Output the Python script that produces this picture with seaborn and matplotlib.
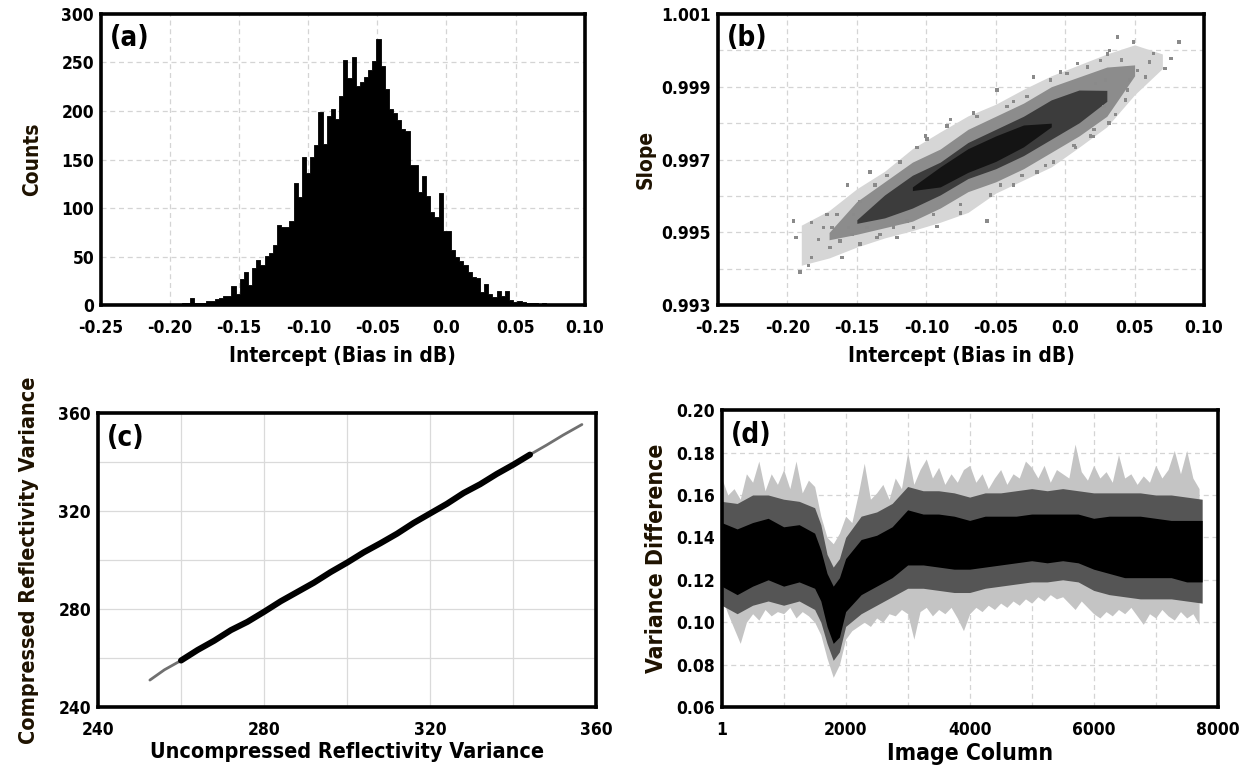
import numpy as np
import matplotlib
matplotlib.use("Agg")
import matplotlib.pyplot as plt
from matplotlib import font_manager as fm
from matplotlib.ticker import MultipleLocator, FixedLocator, FormatStrFormatter
import seaborn as sns

# ---- (a) histogram of intercepts, bin width 0.003 starting at -0.2007
bin_start = -0.2007
bin_width = 0.003
hist_counts = [1, 1, 1, 2, 2, 8, 2, 2, 2, 4, 4, 6, 8, 10, 10, 20, 12, 27, 34, 21,
               38, 47, 42, 51, 54, 62, 83, 81, 81, 87, 126, 111, 153, 136, 153, 165, 199, 166, 195, 202,
               192, 215, 253, 234, 256, 226, 230, 235, 242, 251, 274, 246, 223, 202, 198, 191, 182, 179, 144, 144,
               117, 133, 113, 96, 91, 116, 76, 76, 57, 50, 46, 41, 34, 29, 28, 14, 22, 12, 9, 15,
               10, 15, 5, 3, 4, 3, 2, 2, 2, 1, 2, 1, 1]

# ---- (b) slope vs intercept cloud: density bands + sparse points
band_x = [-0.19, -0.17, -0.15, -0.13, -0.11, -0.09, -0.07, -0.05, -0.03, -0.01, 0.01, 0.03, 0.05, 0.07]
outer_lo = [0.9941, 0.9943, 0.9946, 0.99485, 0.99505, 0.99528, 0.99555, 0.99608, 0.99644, 0.99680, 0.99734, 0.99790, 0.99878, 0.99950]
outer_hi = [0.9952, 0.99560, 0.9962, 0.99668, 0.99730, 0.99776, 0.99820, 0.99852, 0.99893, 0.99930, 0.99960, 0.99990, 1.00015, 0.99990]
mid_x = [-0.17, -0.15, -0.13, -0.11, -0.09, -0.07, -0.05, -0.03, -0.01, 0.01, 0.03, 0.05]
mid_lo = [0.99480, 0.99495, 0.99513, 0.99531, 0.99567, 0.99612, 0.99639, 0.99675, 0.99720, 0.99765, 0.99819, 0.99930]
mid_hi = [0.99500, 0.99585, 0.99639, 0.99693, 0.99729, 0.99783, 0.99819, 0.99855, 0.99900, 0.99927, 0.99954, 0.99960]
core_x = [-0.15, -0.13, -0.11, -0.09, -0.07, -0.05, -0.03, -0.01, 0.01, 0.03]
core_lo = [0.99525, 0.99540, 0.99567, 0.99603, 0.99648, 0.99675, 0.99711, 0.99756, 0.99801, 0.99860]
core_hi = [0.99535, 0.99603, 0.99657, 0.99693, 0.99747, 0.99783, 0.99819, 0.99864, 0.99891, 0.99890]
dense_x = [-0.11, -0.09, -0.07, -0.05, -0.03, -0.01]
dense_lo = [0.99615, 0.99625, 0.99665, 0.99695, 0.99735, 0.99790]
dense_hi = [0.99625, 0.99680, 0.99730, 0.99765, 0.99795, 0.99800]
out_x = [-0.1909, -0.1849, -0.1825, -0.1957, -0.1938, -0.1825, -0.1776, -0.1740, -0.1692, -0.1608,
         -0.1567, -0.1644, -0.1536, -0.1476, -0.1404, -0.1332, -0.1212, -0.1067, -0.1007, -0.0923,
         -0.0827, -0.0755, -0.0562, -0.0659, -0.0490, -0.0370, -0.0466, -0.0310, -0.0226, -0.0142,
         -0.0034, 0.0075, 0.0207, 0.0087, 0.0303, 0.0219, 0.0279, 0.0377, 0.0491, 0.0634,
         0.0820, 0.0763, 0.0720, 0.0577, 0.0449, 0.0434, 0.0363, 0.0206, 0.0520, 0.0406,
         0.0320, 0.0606, 0.0291, 0.0463,
         -0.1716, -0.1680, -0.1620, -0.1560, -0.1524, -0.1476, -0.1428, -0.1368, -0.1356, -0.1284,
         -0.1236, -0.1188, -0.1139, -0.1091, -0.0995, -0.0947, -0.0851, -0.0755, -0.0635, -0.0538,
         -0.0418, -0.0370, -0.0274, -0.0202, -0.0106, -0.0082, 0.0014, 0.0063, 0.0159, 0.0183,
         0.0255, 0.0315]
out_y = [0.99391, 0.99409, 0.99432, 0.99532, 0.99486, 0.99528, 0.99481, 0.99513, 0.99459, 0.99432,
         0.99630, 0.99549, 0.99495, 0.99468, 0.99666, 0.99495, 0.99486, 0.99733, 0.99765, 0.99517,
         0.99810, 0.99553, 0.99531, 0.99828, 0.99891, 0.99859, 0.99630, 0.99657, 0.99927, 0.99684,
         0.99941, 0.99733, 0.99783, 0.99963, 0.99990, 0.99909, 0.99846, 1.00036, 1.00023, 0.99991,
         1.00023, 0.99977, 0.99950, 0.99927, 0.99891, 0.99864, 0.99823, 0.99764, 0.99945, 0.99973,
         1.00000, 0.99968, 0.99918, 0.99918,
         0.99549, 0.99513, 0.99477, 0.99513, 0.99549, 0.99585, 0.99513, 0.99630, 0.99486, 0.99657,
         0.99513, 0.99693, 0.99531, 0.99513, 0.99756, 0.99549, 0.99792, 0.99576, 0.99819, 0.99603,
         0.99846, 0.99630, 0.99873, 0.99666, 0.99918, 0.99693, 0.99936, 0.99738, 0.99954, 0.99765,
         0.99972, 0.99801]

# ---- (c) compressed vs uncompressed variance
c_x = [252.5, 256, 260, 264, 268, 272, 276, 280, 284, 288, 292, 296, 300, 304, 308, 312, 316, 320,
       324, 328, 332, 336, 340, 344, 348, 352, 356.5]
c_y = [251.0, 255.2, 259.0, 263.3, 267.1, 271.4, 274.8, 278.9, 283.2, 287.0, 290.8, 295.1, 299.0, 303.2,
       306.9, 310.8, 315.2, 319.1, 323.0, 327.4, 331.0, 335.2, 339.0, 343.1, 347.0, 351.1, 355.4]

# ---- (d) variance difference per image column: spread envelopes
d_cols = list(range(0, 7800, 100))
d_max = [0.168, 0.160, 0.163, 0.158, 0.170, 0.166, 0.176, 0.162, 0.170, 0.165, 0.172, 0.163, 0.176, 0.161,
         0.167, 0.164, 0.150, 0.140, 0.137, 0.142, 0.150, 0.147, 0.160, 0.175, 0.158, 0.161, 0.165, 0.158,
         0.168, 0.163, 0.180, 0.165, 0.172, 0.177, 0.168, 0.173, 0.165, 0.170, 0.166, 0.172, 0.174, 0.166,
         0.170, 0.163, 0.168, 0.172, 0.165, 0.170, 0.168, 0.176, 0.173, 0.168, 0.174, 0.166, 0.172, 0.170,
         0.168, 0.184, 0.171, 0.167, 0.174, 0.168, 0.171, 0.166, 0.179, 0.168, 0.170, 0.165, 0.169, 0.166,
         0.174, 0.168, 0.172, 0.181, 0.170, 0.181, 0.168, 0.163]
d_min = [0.112, 0.104, 0.097, 0.090, 0.100, 0.104, 0.101, 0.106, 0.103, 0.105, 0.104, 0.107, 0.102, 0.105,
         0.103, 0.100, 0.094, 0.083, 0.074, 0.080, 0.092, 0.096, 0.098, 0.100, 0.098, 0.102, 0.100, 0.104,
         0.103, 0.106, 0.104, 0.092, 0.105, 0.107, 0.103, 0.106, 0.104, 0.107, 0.102, 0.096, 0.104, 0.107,
         0.105, 0.108, 0.106, 0.109, 0.107, 0.110, 0.108, 0.111, 0.109, 0.112, 0.110, 0.113, 0.111, 0.112,
         0.109, 0.106, 0.110, 0.107, 0.104, 0.102, 0.105, 0.103, 0.106, 0.104, 0.107, 0.103, 0.099, 0.104,
         0.102, 0.106, 0.103, 0.101, 0.105, 0.102, 0.104, 0.099]
d_band_cols = [0, 250, 500, 750, 1000, 1250, 1500, 1600, 1700, 1800, 1900, 2000, 2250, 2500, 2750, 3000,
               3250, 3500, 3750, 4000, 4250, 4500, 4750, 5000, 5250, 5500, 5750, 6000, 6250, 6500, 6750,
               7000, 7250, 7500, 7750]
d_mid_hi = [0.157, 0.156, 0.160, 0.160, 0.158, 0.157, 0.154, 0.146, 0.132, 0.126, 0.130, 0.140, 0.150, 0.152,
            0.156, 0.164, 0.162, 0.162, 0.161, 0.159, 0.161, 0.161, 0.162, 0.163, 0.162, 0.163, 0.162, 0.161,
            0.161, 0.161, 0.161, 0.160, 0.160, 0.159, 0.158]
d_mid_lo = [0.108, 0.104, 0.108, 0.110, 0.108, 0.110, 0.106, 0.100, 0.090, 0.082, 0.086, 0.098, 0.104, 0.108,
            0.112, 0.116, 0.116, 0.115, 0.114, 0.114, 0.116, 0.117, 0.118, 0.119, 0.119, 0.120, 0.119, 0.115,
            0.113, 0.112, 0.111, 0.111, 0.111, 0.110, 0.109]
d_core_hi = [0.147, 0.144, 0.147, 0.149, 0.145, 0.146, 0.142, 0.134, 0.123, 0.117, 0.121, 0.130, 0.139, 0.141,
             0.145, 0.153, 0.151, 0.151, 0.150, 0.148, 0.150, 0.150, 0.150, 0.151, 0.151, 0.151, 0.151, 0.149,
             0.150, 0.150, 0.150, 0.149, 0.148, 0.148, 0.148]
d_core_lo = [0.117, 0.113, 0.117, 0.120, 0.117, 0.119, 0.116, 0.110, 0.098, 0.090, 0.093, 0.105, 0.113, 0.117,
             0.121, 0.127, 0.127, 0.126, 0.125, 0.125, 0.126, 0.127, 0.128, 0.129, 0.128, 0.129, 0.128, 0.125,
             0.123, 0.121, 0.121, 0.121, 0.121, 0.119, 0.119]

sns.set_theme(style="white")

# prefer a condensed bold face if one is installed (reference uses a narrow bold font)
cond = None
for f in fm.fontManager.ttflist:
    low = f.fname.lower()
    if ("narrow" in low or "condensed" in low) and "bold" in low and "italic" not in low and "oblique" not in low:
        cond = f
        break
if cond is not None:
    plt.rcParams["font.family"] = [cond.name, "Liberation Sans", "DejaVu Sans"]
    plt.rcParams["font.stretch"] = cond.stretch
else:
    plt.rcParams["font.family"] = ["Liberation Sans", "DejaVu Sans"]
plt.rcParams["font.weight"] = "bold"
plt.rcParams["axes.labelweight"] = "bold"
plt.rcParams["text.color"] = "black"
plt.rcParams["axes.labelcolor"] = "black"
plt.rcParams["xtick.color"] = "black"
plt.rcParams["ytick.color"] = "black"

TICK = 12.5
TAG = 20

fig = plt.figure(figsize=(12.4, 7.71), dpi=100)
ax_a = fig.add_axes([0.0815, 0.604, 0.390, 0.378])
ax_b = fig.add_axes([0.579, 0.604, 0.392, 0.378])
ax_c = fig.add_axes([0.079, 0.083, 0.402, 0.381])
ax_d = fig.add_axes([0.582, 0.083, 0.400, 0.385])

grid_kw = dict(color="#d4d4d4", linestyle=(0, (4, 3)), linewidth=0.9)
ylab_color = "#1e1200"


def style(ax, tag, dashed=True):
    for s in ax.spines.values():
        s.set_linewidth(2.6)
        s.set_color("black")
    ax.tick_params(length=0, labelsize=TICK, colors="black")
    ax.tick_params(axis="x", pad=10)
    ax.tick_params(axis="y", pad=5)
    for lab in ax.get_xticklabels() + ax.get_yticklabels():
        lab.set_fontweight("bold")
    kw = grid_kw if dashed else dict(color="#dadada", linestyle="-", linewidth=0.9)
    ax.grid(True, which="both", **kw)
    ax.set_axisbelow(True)
    ax.text(0.018, 0.965, tag, transform=ax.transAxes, ha="left", va="top",
            fontsize=TAG, fontweight="bold", color="black")


xt = [-0.25, -0.20, -0.15, -0.10, -0.05, 0.0, 0.05, 0.10]
xtl = ["-0.25", "-0.20", "-0.15", "-0.10", "-0.05", "0.0", "0.05", "0.10"]

# (a)
edges = [bin_start + bin_width * i for i in range(len(hist_counts) + 1)]
centers = [e + bin_width / 2 for e in edges[:-1]]
sns.histplot(x=centers, weights=hist_counts, bins=edges, element="step", fill=True,
             color="black", alpha=1.0, linewidth=0.6, ax=ax_a)
ax_a.set_xlim(-0.25, 0.10)
ax_a.set_ylim(0, 300)
ax_a.xaxis.set_major_locator(FixedLocator(xt))
ax_a.set_xticklabels(xtl)
ax_a.yaxis.set_major_locator(MultipleLocator(50))
ax_a.set_xlabel("Intercept (Bias in dB)", fontsize=15, fontweight="bold", labelpad=6)
ax_a.set_ylabel("Counts", fontsize=15, fontweight="bold", color=ylab_color, labelpad=14)
style(ax_a, "(a)")

# (b)
ax_b.fill_between(band_x, outer_lo, outer_hi, color="#d6d6d6", linewidth=0)
ax_b.fill_between(mid_x, mid_lo, mid_hi, color="#8c8c8c", linewidth=0)
ax_b.fill_between(core_x, core_lo, core_hi, color="#3c3c3c", linewidth=0)
ax_b.fill_between(dense_x, dense_lo, dense_hi, color="#141414", linewidth=0)
sns.scatterplot(x=out_x, y=out_y, marker="s", s=6, color="#8a8a8a", edgecolor="none", ax=ax_b)
ax_b.set_xlim(-0.25, 0.10)
ax_b.set_ylim(0.993, 1.001)
ax_b.xaxis.set_major_locator(FixedLocator(xt))
ax_b.set_xticklabels(xtl)
ax_b.yaxis.set_major_locator(FixedLocator([0.993, 0.995, 0.997, 0.999, 1.001]))
ax_b.set_yticklabels(["0.993", "0.995", "0.997", "0.999", "1.001"])
ax_b.yaxis.set_minor_locator(FixedLocator([0.994, 0.996, 0.998, 1.000]))
ax_b.set_xlabel("Intercept (Bias in dB)", fontsize=15, fontweight="bold", labelpad=6)
ax_b.set_ylabel("Slope", fontsize=15, fontweight="bold", color=ylab_color, labelpad=4)
style(ax_b, "(b)")

# (c)
sns.lineplot(x=c_x, y=c_y, color="#707070", linewidth=2.0, ax=ax_c, sort=False)
sns.lineplot(x=c_x[2:-3], y=c_y[2:-3], color="black", linewidth=4.4, ax=ax_c, sort=False)
ax_c.set_xlim(240, 360)
ax_c.set_ylim(240, 360)
ax_c.xaxis.set_major_locator(MultipleLocator(40))
ax_c.yaxis.set_major_locator(MultipleLocator(40))
ax_c.xaxis.set_minor_locator(MultipleLocator(20))
ax_c.yaxis.set_minor_locator(MultipleLocator(20))
ax_c.set_xlabel("Uncompressed Reflectivity Variance", fontsize=15.5, fontweight="bold", labelpad=2)
ax_c.set_ylabel("Compressed Reflectivity Variance", fontsize=15.5, fontweight="bold",
                color=ylab_color, labelpad=14)
style(ax_c, "(c)", dashed=False)

# (d)
ax_d.fill_between(d_cols, d_min, d_max, color="#c4c4c4", linewidth=0)
ax_d.fill_between(d_band_cols, d_mid_lo, d_mid_hi, color="#555555", linewidth=0)
ax_d.fill_between(d_band_cols, d_core_lo, d_core_hi, color="black", linewidth=0)
ax_d.set_xlim(1, 8000)
ax_d.set_ylim(0.06, 0.20)
ax_d.xaxis.set_major_locator(FixedLocator([1, 2000, 4000, 6000, 8000]))
ax_d.set_xticklabels(["1", "2000", "4000", "6000", "8000"])
ax_d.xaxis.set_minor_locator(FixedLocator([1000, 3000, 5000, 7000]))
ax_d.yaxis.set_major_locator(MultipleLocator(0.02))
ax_d.yaxis.set_major_formatter(FormatStrFormatter("%.2f"))
ax_d.set_xlabel("Image Column", fontsize=16.5, fontweight="bold", labelpad=2)
ax_d.set_ylabel("Variance Difference", fontsize=16.5, fontweight="bold", color=ylab_color, labelpad=6)
style(ax_d, "(d)")

fig.savefig("out.png", dpi=100)
